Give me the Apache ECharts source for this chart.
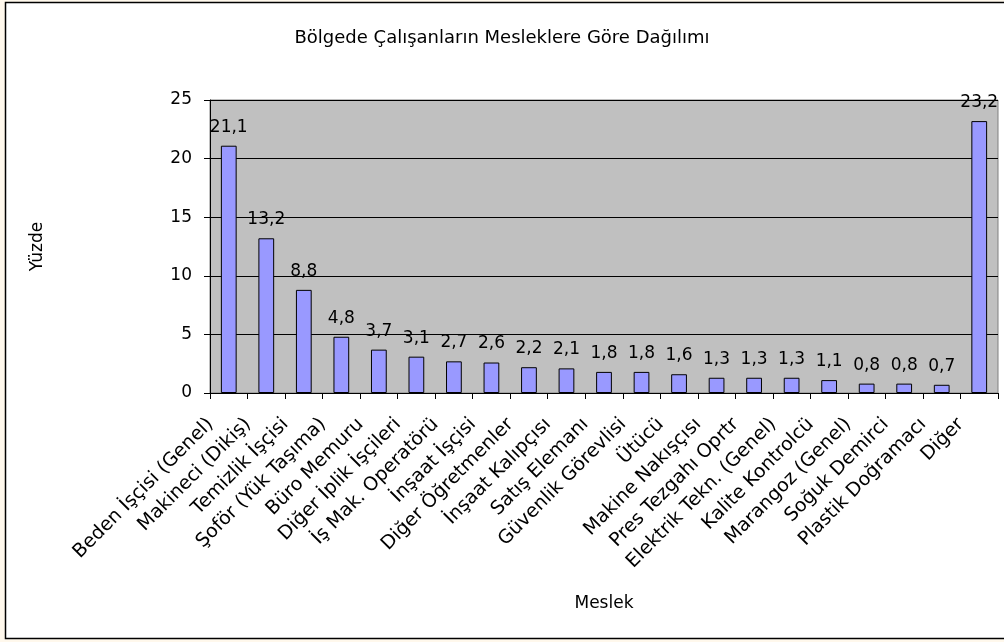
<!DOCTYPE html>
<html>
<head>
<meta charset="utf-8">
<script src="https://cdn.jsdelivr.net/npm/echarts@6/dist/echarts.min.js"></script>
<style>
  html, body { margin: 0; padding: 0; background: #fff8ec; }
  #chart { width: 1004px; height: 642px; }
</style>
</head>
<body>
<div id="chart"></div>
<script>
// Meslek kategorileri ve yüzde değerleri
const categories = [
    'Beden İşçisi (Genel)', 'Makineci (Dikiş)', 'Temizlik İşçisi', 'Şoför (Yük Taşıma)',
    'Büro Memuru', 'Diğer İplik İşçileri', 'İş Mak. Operatörü', 'İnşaat İşçisi',
    'Diğer Öğretmenler', 'İnşaat Kalıpçısı', 'Satış Elemanı', 'Güvenlik Görevlisi',
    'Ütücü', 'Makine Nakışçısı', 'Pres Tezgahı Oprtr', 'Elektrik Tekn. (Genel)',
    'Kalite Kontrolcü', 'Marangoz (Genel)', 'Soğuk Demirci', 'Plastik Doğramacı', 'Diğer',
];
const values = [21.1, 13.2, 8.8, 4.8, 3.7, 3.1, 2.7, 2.6, 2.2, 2.1, 1.8, 1.8, 1.6, 1.3, 1.3, 1.3, 1.1, 0.8, 0.8, 0.7, 23.2];
const yTicks = [0, 5, 10, 15, 20, 25];

const FONT = '"DejaVu Sans", "Noto Sans", sans-serif';
const fmt = (v) => String(v).replace('.', ',');

const chart = echarts.init(document.getElementById('chart'), null, { renderer: 'canvas' });

chart.setOption({
    backgroundColor: 'transparent',
    textStyle: { fontFamily: FONT, color: '#000' },
    animation: false,
    title: {
        text: 'Bölgede Çalışanların Mesleklere Göre Dağılımı',
        left: 'center',
        top: 24,
        textStyle: { fontFamily: FONT, fontSize: 18, fontWeight: 'normal', color: '#000' },
    },
    // outer chart frame: white area with top, left and bottom edges (right edge is off the page)
    graphic: [
        {
            type: 'rect', z: -10, silent: true,
            shape: { x: 5.5, y: 2.5, width: 1000, height: 636 },
            style: { fill: '#ffffff' },
        },
        {
            type: 'polyline', z: -9, silent: true,
            shape: { points: [[1004, 2.5], [5.5, 2.5], [5.5, 638.5], [1004, 638.5]] },
            style: { fill: null, stroke: '#000', lineWidth: 1.5 },
        },
    ],
    grid: {
        left: 210, right: 6, top: 100, bottom: 249,
        show: true,
        backgroundColor: '#c0c0c0',
        borderColor: '#808080',
        borderWidth: 1,
    },
    xAxis: {
        type: 'category',
        data: categories,
        name: 'Meslek',
        nameLocation: 'middle',
        nameGap: 202,
        nameTextStyle: { fontFamily: FONT, fontSize: 17, color: '#000' },
        axisLine: { lineStyle: { color: '#000', width: 1 } },
        axisTick: { show: true, length: 6, lineStyle: { color: '#000' } },
        axisLabel: {
            interval: 0, rotate: 45, margin: 10,
            padding: [0, 26, 0, 0],
            fontFamily: FONT, fontSize: 19, color: '#000',
        },
        splitLine: { show: false },
    },
    yAxis: {
        type: 'value',
        min: yTicks[0],
        max: yTicks[yTicks.length - 1],
        interval: 5,
        name: 'Yüzde',
        nameLocation: 'middle',
        nameRotate: 90,
        nameGap: 164,
        nameTextStyle: { fontFamily: FONT, fontSize: 17, color: '#000' },
        axisLine: { show: true, lineStyle: { color: '#000', width: 1 } },
        axisTick: { show: true, length: 6, lineStyle: { color: '#000' } },
        axisLabel: { margin: 18, fontFamily: FONT, fontSize: 17, color: '#000' },
        splitLine: { show: true, lineStyle: { color: '#000', width: 1 } },
    },
    series: [{
        type: 'bar',
        data: values,
        barWidth: '42%',
        itemStyle: { color: '#9999ff', borderColor: '#000', borderWidth: 1 },
        label: {
            show: true,
            position: 'top',
            distance: 10,
            fontFamily: FONT,
            fontSize: 17,
            color: '#000',
            formatter: (p) => fmt(p.value),
        },
    }],
});
</script>
</body>
</html>
